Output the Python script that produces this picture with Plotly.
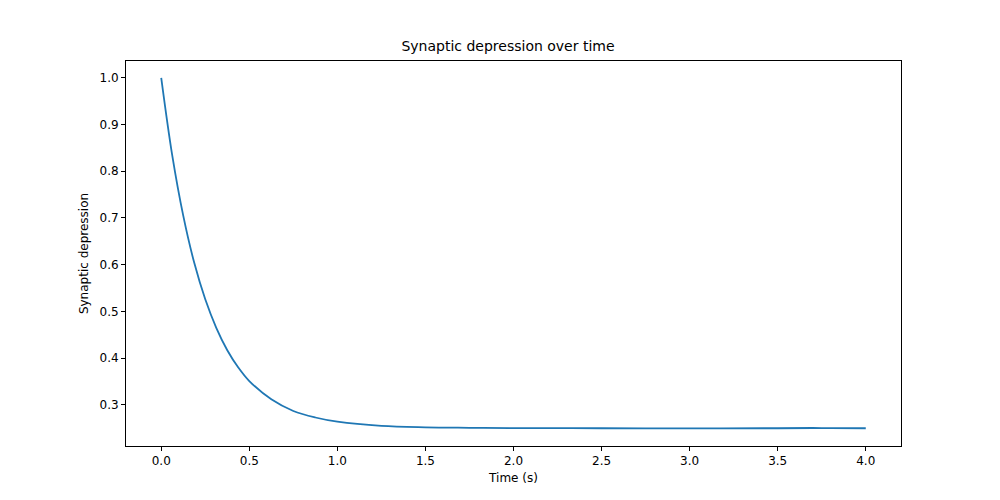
import plotly.graph_objects as go

time_s = [0.0, 0.0625, 0.125, 0.1875, 0.25, 0.3125, 0.375, 0.4375, 0.5, 0.625, 0.75, 0.875, 1.0,
          1.25, 1.5, 1.75, 2.0, 2.5, 3.0, 3.5, 3.7, 3.8, 4.0]
depression = [1.0, 0.834, 0.705, 0.604, 0.526, 0.465, 0.417, 0.380, 0.351, 0.312, 0.287, 0.273, 0.264,
              0.255, 0.252, 0.251, 0.2503, 0.2500, 0.2499, 0.2500, 0.2505, 0.2503, 0.2500]
xticks = [0.0, 0.5, 1.0, 1.5, 2.0, 2.5, 3.0, 3.5, 4.0]
yticks = [0.3, 0.4, 0.5, 0.6, 0.7, 0.8, 0.9, 1.0]

fig = go.Figure(go.Scatter(x=time_s, y=depression, mode="lines",
                           line=dict(color="#1f77b4", width=1.8, shape="spline")))
ax = dict(showgrid=False, zeroline=False, showline=True, linecolor="black", linewidth=1,
          mirror=True, ticks="outside", ticklen=4, tickcolor="black")
fig.update_layout(
    width=1000, height=500, plot_bgcolor="white", paper_bgcolor="white",
    margin=dict(l=118, r=107, t=53, b=62),
    font=dict(family="DejaVu Sans", size=12, color="black"),
    title=dict(text="Synaptic depression over time", x=0.5, xanchor="center", y=0.924, yanchor="middle",
               font=dict(size=14)),
    showlegend=False,
)
fig.update_xaxes(ax, range=[-0.2, 4.2], tickvals=xticks, ticktext=[f"{v:.1f}" for v in xticks],
                 title=dict(text="Time (s)", standoff=6, font=dict(size=12)))
fig.update_yaxes(ax, range=[0.212, 1.036], tickvals=yticks, ticktext=[f"{v:.1f}" for v in yticks],
                 title=dict(text="Synaptic depression", standoff=8, font=dict(size=12)))
fig.write_html("out.html")
